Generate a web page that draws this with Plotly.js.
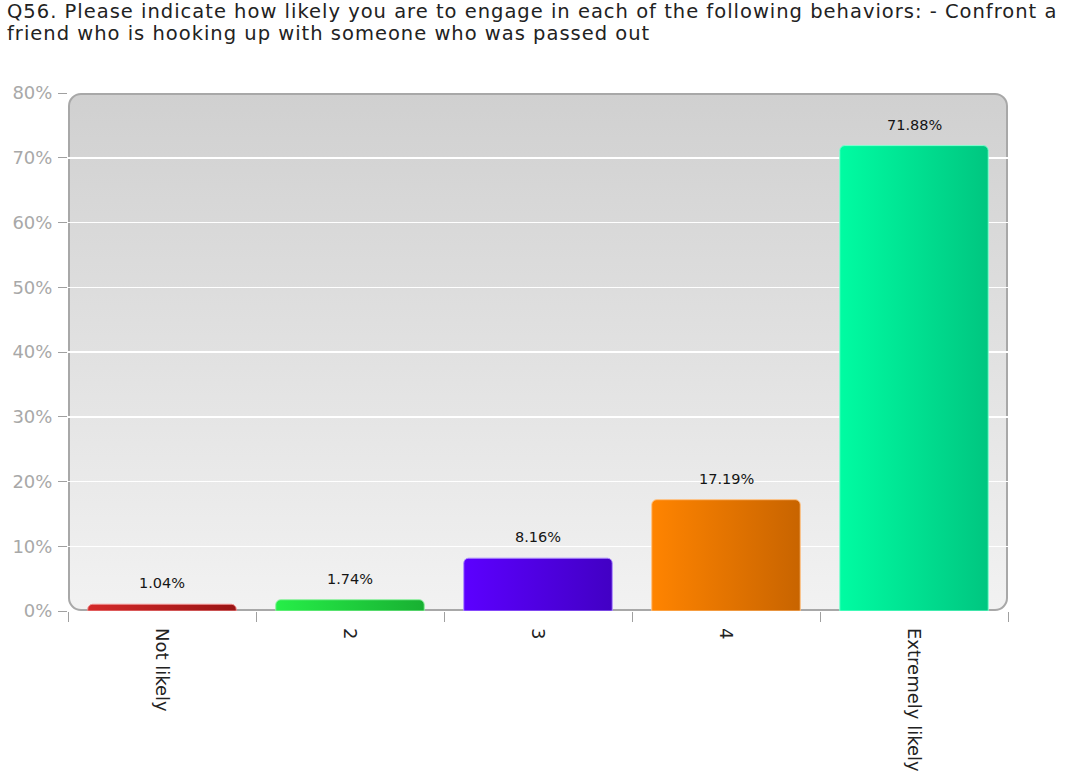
<!DOCTYPE html>
<html><head><meta charset="utf-8">
<script src="https://cdn.plot.ly/plotly-3.0.1.min.js"></script>
<style>html,body{margin:0;padding:0;background:#fff}#chart{width:1070px;height:782px}</style>
</head><body><div id="chart"></div>
<script>
const categories = ["Not likely", "2", "3", "4", "Extremely likely"];
const percentages = [1.04, 1.74, 8.16, 17.19, 71.88];
const barLeftColors = ["#d42a2a", "#26ee48", "#5c00ff", "#ff8400", "#00fca2"];
const barRightColors = ["#9a1414", "#18b032", "#4200c4", "#c86400", "#00c680"];
const barMidColors = ["#b81c1c", "#1fcc3c", "#4e00e6", "#e87400", "#00e090"];
const lineColors = ["#f09090", "#90f0a0", "#b090ff", "#ffc080", "#80ffd0"];
const yTickVals = [0, 10, 20, 30, 40, 50, 60, 70, 80];
const yTickText = ["0%", "10%", "20%", "30%", "40%", "50%", "60%", "70%", "80%"];
const titleLines = [
  "Q56. Please indicate how likely you are to engage in each of the following behaviors: - Confront a",
  "friend who is hooking up with someone who was passed out"
];

const bgSvg = '<svg xmlns="http://www.w3.org/2000/svg" width="940" height="518" viewBox="0 0 940 518" preserveAspectRatio="none">' +
  '<defs><linearGradient id="g" x1="0" y1="0" x2="0" y2="1"><stop offset="0" stop-color="#d0d0d0"/><stop offset="1" stop-color="#f2f2f2"/></linearGradient></defs>' +
  '<rect x="1" y="1" width="938" height="516" rx="12" ry="12" fill="url(#g)" stroke="#a8a8a8" stroke-width="2"/></svg>';
const bgUri = "data:image/svg+xml;base64," + btoa(bgSvg);

const trace = {
  type: "bar",
  x: categories,
  y: percentages,
  marker: {color: barMidColors, line: {color: lineColors, width: 1}, cornerradius: 5},
  hoverinfo: "x+y"
};

const fontFam = "DejaVu Sans, Verdana, sans-serif";
const annotations = [];
// title lines
const titleY = [1.1564, 1.1139];
titleLines.forEach((t, i) => annotations.push({
  text: t, xref: "paper", yref: "paper", x: -0.067, y: titleY[i],
  xanchor: "left", yanchor: "middle", showarrow: false, align: "left",
  font: {family: fontFam, size: 19.5, color: "#222"}
}));
// value labels (x given as category index)
categories.forEach((c, i) => annotations.push({
  text: percentages[i].toFixed(2) + "%", x: i, y: percentages[i], xref: "x", yref: "y",
  yanchor: "bottom", yshift: 11, showarrow: false,
  font: {family: fontFam, size: 14.5, color: "#151515"}
}));

const layout = {
  width: 1070, height: 782,
  margin: {l: 68, r: 62, t: 93, b: 171},
  paper_bgcolor: "#ffffff",
  plot_bgcolor: "rgba(0,0,0,0)",
  bargap: 0.21,
  showlegend: false,
  annotations: annotations,
  images: [{
    source: bgUri, xref: "paper", yref: "paper", x: 0, y: 1, sizex: 1, sizey: 1,
    xanchor: "left", yanchor: "top", sizing: "stretch", layer: "below"
  }],
  xaxis: {
    type: "category",
    tickson: "boundaries",
    ticks: "outside", ticklen: 10, tickcolor: "#a0a0a0", tickwidth: 1,
    tickangle: 90,
    ticklabelstandoff: 16,
    tickfont: {family: fontFam, size: 18, color: "#222"},
    showgrid: false, showline: false, zeroline: false
  },
  yaxis: {
    range: [0, 80],
    tickvals: yTickVals, ticktext: yTickText,
    ticks: "outside", ticklen: 9, tickcolor: "#a0a0a0",
    ticklabelstandoff: 2,
    tickfont: {family: fontFam, size: 18, color: "#a8a8a8"},
    showgrid: true, gridcolor: "#ffffff", gridwidth: 1.5,
    zeroline: false, showline: false
  }
};

Plotly.newPlot("chart", [trace], layout, {displayModeBar: false, staticPlot: true}).then(gd => {
  const svg = gd.querySelector("svg.main-svg");
  const ns = "http://www.w3.org/2000/svg";
  let defs = svg.querySelector("defs");
  if (!defs) { defs = document.createElementNS(ns, "defs"); svg.insertBefore(defs, svg.firstChild); }
  gd.querySelectorAll(".barlayer .point path").forEach((p, i) => {
    const lg = document.createElementNS(ns, "linearGradient");
    lg.setAttribute("id", "bargrad" + i);
    lg.setAttribute("x1", "0"); lg.setAttribute("x2", "1");
    lg.setAttribute("y1", "0"); lg.setAttribute("y2", "0");
    [[0, barLeftColors[i]], [1, barRightColors[i]]].forEach(([o, c]) => {
      const s = document.createElementNS(ns, "stop");
      s.setAttribute("offset", o); s.setAttribute("stop-color", c);
      lg.appendChild(s);
    });
    defs.appendChild(lg);
    p.style.fill = "url(#bargrad" + i + ")";
  });
  gd.querySelectorAll(".annotation-text").forEach((t, i) => {
    if (i < titleLines.length) t.style.letterSpacing = "1px";
  });
});
</script></body></html>
